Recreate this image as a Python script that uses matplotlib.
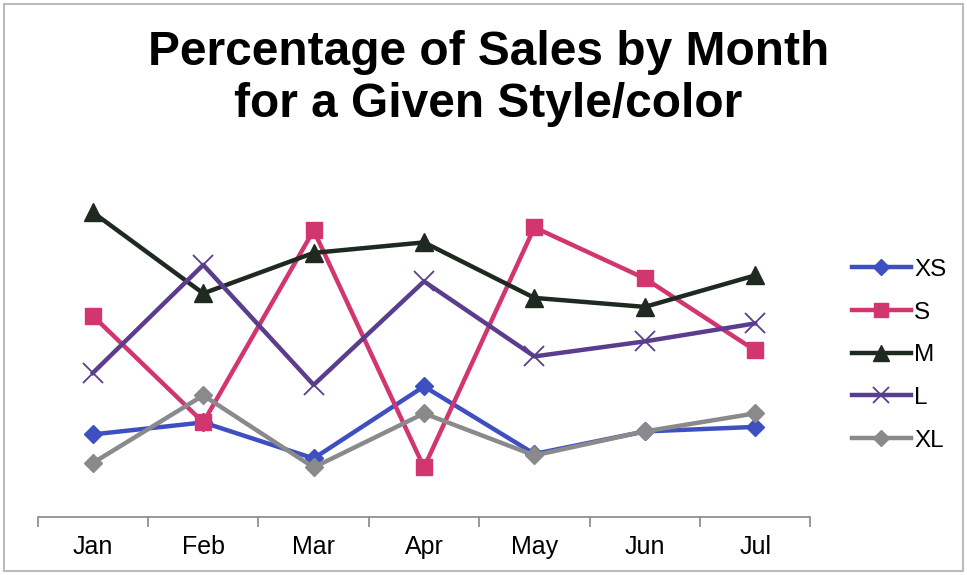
import matplotlib.pyplot as plt
from matplotlib.patches import Rectangle

months = ["Jan", "Feb", "Mar", "Apr", "May", "Jun", "Jul"]

# percentage of sales per size
xs = [5.5, 6.3, 3.9, 8.7, 4.2, 5.7, 6.0]
s = [13.4, 6.3, 19.1, 3.3, 19.3, 15.9, 11.1]
m = [20.3, 14.9, 17.6, 18.3, 14.6, 14.0, 16.1]
l = [9.6, 16.8, 8.8, 15.7, 10.7, 11.7, 12.9]
xl = [3.6, 8.1, 3.3, 6.9, 4.1, 5.7, 6.9]

plt.rcParams['font.family'] = ['Liberation Sans', 'DejaVu Sans']

fig = plt.figure(figsize=(9.67, 5.75), dpi=100)
ax = fig.add_axes([0.039, 0.101, 0.799, 0.574])

x = range(len(months))
ax.plot(x, xs, color="#3d4fc1", lw=3.2, marker="D", ms=9, label="XS", zorder=3)
ax.plot(x, s, color="#d2366f", lw=3.2, marker="s", ms=12, label="S", zorder=3)
ax.plot(x, m, color="#1e2a20", lw=3.2, marker="^", ms=13, label="M", zorder=3)
ax.plot(x, l, color="#5a3d8e", lw=3.2, marker="x", ms=14, mew=1.3, label="L", zorder=3)
ax.plot(x, xl, color="#8a8a8c", lw=3.2, marker="D", ms=9, label="XL", zorder=3)

ax.set_xlim(-0.5, len(months) - 0.5)
ax.set_ylim(0, 22)
ax.set_yticks([])
for side in ["top", "right", "left"]:
    ax.spines[side].set_visible(False)
ax.spines["bottom"].set_color("#888888")
ax.spines["bottom"].set_linewidth(1.2)

# labels centred, tick marks between categories
ax.set_xticks(list(x))
ax.set_xticklabels(months, fontsize=18)
ax.tick_params(axis="x", which="major", length=0, pad=13)
ax.set_xticks([i - 0.5 for i in range(len(months) + 1)], minor=True)
ax.tick_params(axis="x", which="minor", length=7, width=1.2, color="#888888")

fig.text(0.505, 0.863, "Percentage of Sales by Month\nfor a Given Style/color",
         ha="center", va="center", fontsize=34.5, fontweight="bold",
         linespacing=1.2)

ax.legend(loc="center left", bbox_to_anchor=(1.026, 0.49), frameon=False,
          fontsize=17.5, handlelength=2.4, handletextpad=0.15, labelspacing=0.85,
          markerscale=0.85)

fig.patches.append(Rectangle((0.004, 0.007), 0.992, 0.986, transform=fig.transFigure,
                             fill=False, edgecolor="#bbbbbb", lw=1.5))

fig.savefig("out.png", dpi=100)
